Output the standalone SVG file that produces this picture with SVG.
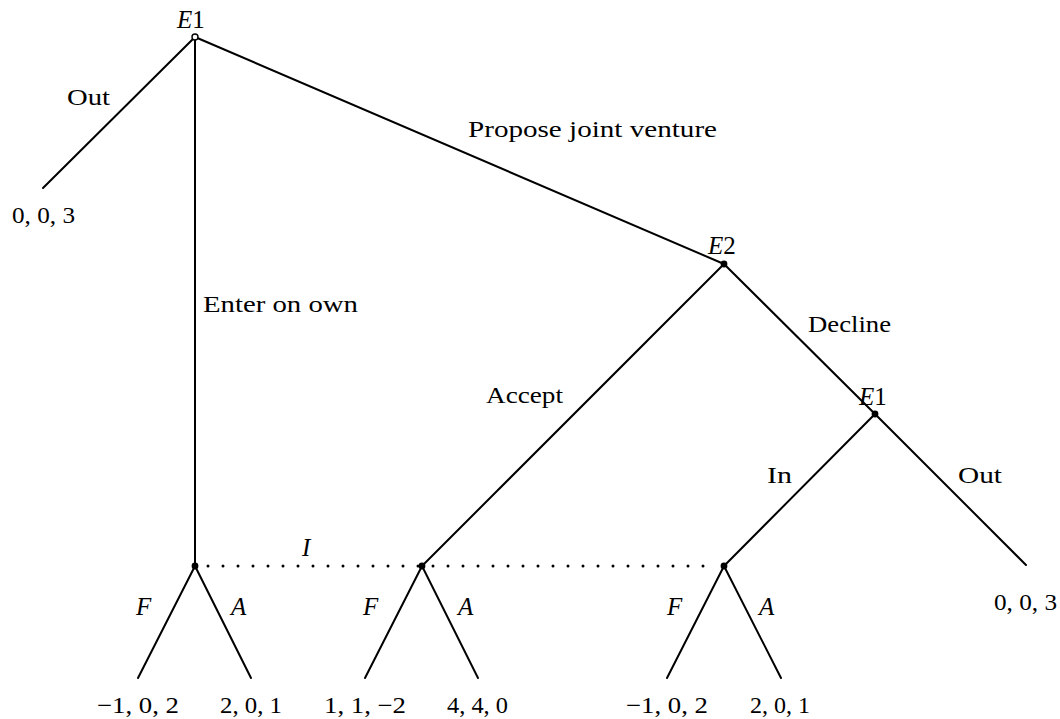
<svg xmlns="http://www.w3.org/2000/svg" width="1060" height="719" viewBox="0 0 1060 719">
<style>
text{font-family:"Liberation Serif","DejaVu Serif",serif;font-size:23px;fill:#000}
.it{font-style:italic}
.lb{font-size:25px}
.e{stroke:#000;stroke-width:2;fill:none;stroke-linecap:round}
.dot{fill:#000}
.info{stroke:#000;stroke-width:3;stroke-linecap:round;stroke-dasharray:0 15;fill:none}
</style>
<rect width="1060" height="719" fill="#fff"/>
<g id="connectors">
<line class="e" x1="195" y1="37" x2="43" y2="188"/>
<line class="e" x1="195" y1="37" x2="195" y2="566"/>
<line class="e" x1="195" y1="37" x2="724" y2="264"/>
<line class="e" x1="724" y1="264" x2="422" y2="566"/>
<line class="e" x1="724" y1="264" x2="875" y2="414"/>
<line class="e" x1="875" y1="414" x2="724" y2="566"/>
<line class="e" x1="875" y1="414" x2="1026" y2="565"/>
<line class="e" x1="195" y1="566" x2="138" y2="678"/>
<line class="e" x1="195" y1="566" x2="251" y2="678"/>
<line class="e" x1="422" y1="566" x2="365" y2="678"/>
<line class="e" x1="422" y1="566" x2="478" y2="678"/>
<line class="e" x1="724" y1="566" x2="667" y2="678"/>
<line class="e" x1="724" y1="566" x2="781" y2="678"/>
<path class="info" d="M208 566 H716"/>
<text x="67" y="105" textLength="43" lengthAdjust="spacingAndGlyphs">Out</text>
<text x="468" y="137" textLength="249" lengthAdjust="spacingAndGlyphs">Propose joint venture</text>
<text x="203" y="312" textLength="155" lengthAdjust="spacingAndGlyphs">Enter on own</text>
<text x="486" y="403" textLength="77" lengthAdjust="spacingAndGlyphs">Accept</text>
<text x="808" y="332" textLength="83" lengthAdjust="spacingAndGlyphs">Decline</text>
<text x="767" y="483" textLength="25" lengthAdjust="spacingAndGlyphs">In</text>
<text x="958" y="483" textLength="44" lengthAdjust="spacingAndGlyphs">Out</text>
<text class="it lb" x="302" y="556">I</text>
<text class="it lb" x="136" y="615">F</text>
<text class="it lb" x="231" y="615">A</text>
<text class="it lb" x="363" y="615">F</text>
<text class="it lb" x="458" y="615">A</text>
<text class="it lb" x="667" y="615">F</text>
<text class="it lb" x="759" y="615">A</text>
</g>
<g id="n-root">
<circle cx="195" cy="37" r="3" fill="#fff" stroke="#000" stroke-width="1.4"/>
<text class="lb" x="177" y="28"><tspan class="it">E</tspan>1</text>
</g>
<g id="n-e2">
<circle class="dot" cx="724" cy="264" r="3.4"/>
<text class="lb" x="708" y="254"><tspan class="it">E</tspan>2</text>
</g>
<g id="n-e1b">
<circle class="dot" cx="875" cy="414" r="3.4"/>
<text class="lb" x="859" y="405"><tspan class="it">E</tspan>1</text>
</g>
<g id="n-i1"><circle class="dot" cx="195" cy="566" r="3.4"/></g>
<g id="n-i2"><circle class="dot" cx="422" cy="566" r="3.4"/></g>
<g id="n-i3"><circle class="dot" cx="724" cy="566" r="3.4"/></g>
<g id="leaf-out1"><text x="12" y="223" textLength="63" lengthAdjust="spacingAndGlyphs">0, 0, 3</text></g>
<g id="leaf-out2"><text x="994" y="610" textLength="63" lengthAdjust="spacingAndGlyphs">0, 0, 3</text></g>
<g id="leaf-1"><text x="97" y="713" textLength="82" lengthAdjust="spacingAndGlyphs">−1, 0, 2</text></g>
<g id="leaf-2"><text x="220" y="713" textLength="62" lengthAdjust="spacingAndGlyphs">2, 0, 1</text></g>
<g id="leaf-3"><text x="324" y="713" textLength="82" lengthAdjust="spacingAndGlyphs">1, 1, −2</text></g>
<g id="leaf-4"><text x="447" y="713" textLength="61" lengthAdjust="spacingAndGlyphs">4, 4, 0</text></g>
<g id="leaf-5"><text x="626" y="713" textLength="82" lengthAdjust="spacingAndGlyphs">−1, 0, 2</text></g>
<g id="leaf-6"><text x="750" y="713" textLength="60" lengthAdjust="spacingAndGlyphs">2, 0, 1</text></g>
</svg>
